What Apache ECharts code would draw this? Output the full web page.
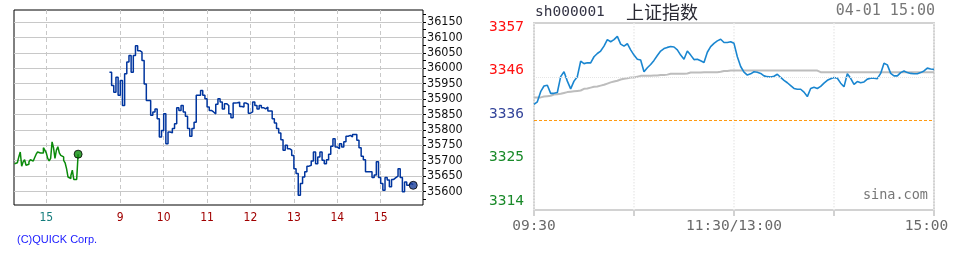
<!DOCTYPE html>
<html>
<head>
<meta charset="utf-8">
<script src="https://cdn.jsdelivr.net/npm/echarts@6/dist/echarts.min.js"></script>
<style>
  html, body { margin: 0; padding: 0; background: #fff; }
  #chart { width: 955px; height: 260px; }
</style>
</head>
<body>
<div id="chart"></div>
<script>
// ---- left panel: index futures, previous afternoon (green) + today (blue) ----
const prevStart = '14:16'
const prevStep = 2 // minutes
const prevValues = [
  35690, 35693, 35698, 35712, 35728, 35682, 35696, 35703, 35685, 35688,
  35696, 35703, 35699, 35703, 35710, 35721, 35728, 35725, 35731, 35725,
  35742, 35734, 35725, 35707, 35699, 35707, 35761, 35742, 35707, 35734,
  35745, 35725, 35717, 35712, 35701, 35693, 35674, 35647, 35642, 35652,
  35669, 35639, 35639, 35639, 35721
]
const todayStart = '08:45'
const todayStep = 3 // minutes
const todayValues = [
  35987, 35944, 35922, 35971, 35912, 35960, 35879, 35982, 36020, 36041,
  35987, 36041, 36073, 36057, 36052, 36025, 35949, 35895, 35895, 35847,
  35858, 35868, 35836, 35777, 35798, 35852, 35755, 35793, 35790, 35804,
  35820, 35872, 35863, 35879, 35858, 35844, 35804, 35779, 35804, 35825,
  35912, 35912, 35928, 35912, 35901, 35874, 35863, 35858, 35852, 35883,
  35901, 35890, 35868, 35885, 35879, 35852, 35839, 35887, 35888, 35890,
  35876, 35874, 35887, 35883, 35854, 35858, 35890, 35879, 35868, 35879,
  35872, 35868, 35874, 35861, 35861, 35836, 35822, 35804, 35790, 35768,
  35734, 35750, 35739, 35734, 35717, 35674, 35658, 35588, 35626, 35647,
  35664, 35682, 35685, 35699, 35728, 35690, 35712, 35728, 35701, 35690,
  35703, 35721, 35747, 35771, 35744, 35739, 35755, 35744, 35761, 35779,
  35782, 35777, 35785, 35785, 35766, 35742, 35714, 35703, 35664, 35664,
  35664, 35645, 35653, 35696, 35645, 35626, 35604, 35645, 35637, 35615,
  35639, 35645, 35650, 35674, 35645, 35599, 35631, 35620, 35626, 35622,
  35620
]
const leftYTicks = [35600, 35650, 35700, 35750, 35800, 35850, 35900, 35950, 36000, 36050, 36100, 36150]
const leftYMinor = [35575, 35600, 35625, 35650, 35675, 35700, 35725, 35750, 35775, 35800, 35825, 35850,
  35875, 35900, 35925, 35950, 35975, 36000, 36025, 36050, 36075, 36100, 36125, 36150, 36175]
const leftXLabels = ['15', '9', '10', '11', '12', '13', '14', '15']
const leftXHours = [15, 9, 10, 11, 12, 13, 14, 15] // first one belongs to the previous day

// ---- right panel: 上证指数 ----
const shStep = 2 // minutes since 09:30 (lunch break removed)
const shPrice = [
  3338.0, 3338.6, 3341.1, 3342.5, 3342.7, 3340.7, 3340.7, 3340.9, 3344.8, 3346.0,
  3343.7, 3341.8, 3343.7, 3344.8, 3348.6, 3348.0, 3348.2, 3348.2, 3349.7, 3350.5,
  3351.1, 3352.3, 3353.9, 3353.4, 3353.9, 3354.7, 3352.8, 3352.3, 3352.9, 3351.4,
  3350.1, 3349.1, 3348.9, 3346.0, 3347.0, 3347.8, 3348.8, 3350.0, 3351.1, 3351.7,
  3352.0, 3352.2, 3352.1, 3351.4, 3350.1, 3349.1, 3351.1, 3350.1, 3349.0, 3349.1,
  3348.7, 3348.3, 3350.8, 3352.2, 3353.0, 3353.6, 3354.0, 3353.2, 3353.2, 3353.4,
  3353.0,
  3349.7, 3347.3, 3345.9, 3345.2, 3345.5, 3346.0, 3345.9, 3345.6, 3345.0, 3344.8,
  3344.7, 3344.9, 3345.4, 3344.6, 3343.9, 3343.3, 3342.6, 3341.9, 3341.7, 3341.7,
  3341.0, 3339.9, 3341.9, 3342.2, 3341.9, 3342.4, 3343.2, 3343.9, 3344.3, 3344.6,
  3344.4, 3343.2, 3342.3, 3345.5, 3344.4, 3342.9, 3343.6, 3343.3, 3343.5, 3344.2,
  3344.4, 3344.4, 3344.3, 3345.6, 3348.1, 3347.7, 3345.6, 3345.0, 3345.0, 3345.8,
  3346.2, 3345.8, 3345.6, 3345.5, 3345.5, 3345.8, 3346.2, 3346.9, 3346.7, 3346.6
]
const shAvg = [
  3339.7, 3339.7, 3339.9, 3340.0, 3340.1, 3340.4, 3340.5, 3340.6, 3340.8, 3341.0,
  3341.1, 3341.2, 3341.3, 3341.4, 3341.8, 3341.9, 3342.1, 3342.3, 3342.4, 3342.6,
  3342.8, 3343.1, 3343.4, 3343.6, 3343.8, 3344.1, 3344.3, 3344.4, 3344.6, 3344.6,
  3344.8, 3345.0, 3345.0, 3345.0, 3345.0, 3345.1, 3345.1, 3345.2, 3345.2, 3345.3,
  3345.5, 3345.5, 3345.5, 3345.5, 3345.5, 3345.6, 3345.8, 3345.8, 3345.8, 3345.8,
  3345.9, 3345.9, 3345.9, 3345.9, 3345.9, 3346.0, 3346.2, 3346.2, 3346.3, 3346.3,
  3346.3,
  3346.3, 3346.3, 3346.3, 3346.3, 3346.3, 3346.3, 3346.3, 3346.3, 3346.3, 3346.3,
  3346.3, 3346.3, 3346.3, 3346.3, 3346.3, 3346.3, 3346.3, 3346.3, 3346.3, 3346.3,
  3346.3, 3346.3, 3346.3, 3346.3, 3345.9, 3345.9, 3345.9, 3345.9, 3345.9, 3345.9,
  3345.9, 3345.9, 3345.9, 3345.9, 3345.9, 3345.9, 3345.9, 3345.9, 3345.9, 3345.9,
  3345.9, 3345.9, 3345.9, 3345.9, 3345.9, 3345.9, 3345.9, 3345.9, 3345.9, 3345.9,
  3345.9, 3345.9, 3345.9, 3345.9, 3345.9, 3345.9, 3345.9, 3345.9, 3345.9, 3345.9
]
const shPrevClose = 3334.0
const shFaintLevel = 3344.6
const shYTicks = [3314.2, 3324.9, 3335.6, 3346.3, 3357.0]
const shXTicks = [0, 60, 120, 180, 240]
const shXLabelAt = [0, 120, 240]
const shXLabels = ['09:30', '11:30/13:00', '15:00']

// previous day's afternoon is pulled left so its 15:00 sits just before today's open
const PREV_SHIFT = 7.705
const toHours = s => { const [h, m] = s.split(':').map(Number); return h + m / 60 }
const leftXTicks = leftXHours.map((h, i) => i === 0 ? h - PREV_SHIFT : h)

const prevData = prevValues.map((v, i) => [toHours(prevStart) + i * prevStep / 60 - PREV_SHIFT, v])
const todayData = todayValues.map((v, i) => [toHours(todayStart) + i * todayStep / 60, v])
const shPriceData = shPrice.map((v, i) => [i * shStep, v])
const shAvgData = shAvg.map((v, i) => [i * shStep, v])

const narrow = "'Liberation Sans Narrow', 'DejaVu Sans Condensed', sans-serif"
const mono = "'DejaVu Sans Mono', 'Liberation Mono', monospace"

const nearestIdx = (arr, v) => {
  let best = 0
  arr.forEach((a, i) => { if (Math.abs(a - v) < Math.abs(arr[best] - v)) best = i })
  return best
}

const chart = echarts.init(document.getElementById('chart'))
chart.setOption({
  animation: false,
  grid: [
    { left: 14, top: 10, width: 409, height: 195, show: true, borderColor: '#000', borderWidth: 1 },
    { left: 534, top: 23, width: 400, height: 187, show: true, borderColor: '#d2d2d2', borderWidth: 2 }
  ],
  xAxis: [
    {
      gridIndex: 0, type: 'value', min: 6.551, max: 15.975,
      axisLine: { show: false },
      axisTick: { show: false, customValues: leftXTicks },
      axisLabel: {
        customValues: leftXTicks,
        margin: 7,
        fontSize: 12,
        fontFamily: narrow,
        formatter: v => leftXLabels[nearestIdx(leftXTicks, v)],
        color: v => (nearestIdx(leftXTicks, v) === 0 ? '#137c7c' : '#a00000')
      },
      splitLine: { show: true, lineStyle: { color: '#c8c8c8', type: [4, 3] } }
    },
    {
      gridIndex: 1, type: 'value', min: 0, max: 240,
      axisLine: { show: false },
      axisTick: { show: true, customValues: shXTicks, length: 6, lineStyle: { color: '#d2d2d2', width: 2 } },
      axisLabel: {
        customValues: shXLabelAt,
        margin: 9,
        fontSize: 14.5,
        fontFamily: mono,
        color: '#6a6a6a',
        formatter: v => {
          const i = nearestIdx(shXLabelAt, v)
          return i === shXLabelAt.length - 1 ? '{r|' + shXLabels[i] + '}' : shXLabels[i]
        },
        rich: { r: { fontSize: 14.5, fontFamily: mono, color: '#6a6a6a', padding: [0, 15, 0, 0] } }
      },
      splitLine: { show: true, lineStyle: { color: '#ececec', type: 'dotted', width: 1.5 } }
    }
  ],
  yAxis: [
    {
      gridIndex: 0, type: 'value', position: 'right', min: 35556, max: 36189,
      axisLine: { show: false },
      axisTick: { show: false, customValues: leftYTicks },
      axisLabel: {
        customValues: leftYTicks, margin: 4, fontSize: 12.5, fontFamily: narrow, color: '#111',
        formatter: v => String(v)
      },
      splitLine: { show: true, lineStyle: { color: '#c8c8c8', width: 1 } }
    },
    {
      gridIndex: 0, type: 'value', position: 'right', min: 35556, max: 36189,
      axisLine: { show: false },
      axisTick: { show: true, customValues: leftYMinor, length: 3, lineStyle: { color: '#000' } },
      axisLabel: { show: false },
      splitLine: { show: false }
    },
    {
      gridIndex: 1, type: 'value', min: 3312, max: 3358,
      axisLine: { show: false },
      axisTick: { show: false },
      axisLabel: {
        customValues: shYTicks,
        margin: 10,
        fontSize: 14.5,
        fontFamily: mono,
        formatter: v => String(Math.round(v)),
        color: v => {
          const mid = shYTicks[2]
          if (v > mid + 0.5) return '#ff1010'
          if (v < mid - 0.5) return '#1a8a2a'
          return '#33449a'
        }
      },
      splitLine: { show: false }
    }
  ],
  series: [
    {
      type: 'line', xAxisIndex: 0, yAxisIndex: 0, data: prevData, step: 'end',
      symbol: 'none', lineStyle: { color: '#0a8a0a', width: 1.5 }, z: 3
    },
    {
      type: 'line', xAxisIndex: 0, yAxisIndex: 0, data: todayData, step: 'end',
      symbol: 'none', lineStyle: { color: '#00359e', width: 1.5 }, z: 3
    },
    {
      type: 'scatter', xAxisIndex: 0, yAxisIndex: 0, symbolSize: 8, z: 4,
      data: [
        { value: prevData[prevData.length - 1], itemStyle: { color: '#0a8a0a', borderColor: '#000', borderWidth: 1 } },
        { value: todayData[todayData.length - 1], itemStyle: { color: '#1a3f9a', borderColor: '#000', borderWidth: 1 } }
      ]
    },
    {
      type: 'line', xAxisIndex: 1, yAxisIndex: 2, data: shAvgData, step: 'end',
      symbol: 'none', lineStyle: { color: '#bdbdbd', width: 2 }, z: 2
    },
    {
      type: 'line', xAxisIndex: 1, yAxisIndex: 2, data: shPriceData,
      symbol: 'none', lineStyle: { color: '#1a86d0', width: 1.6 }, z: 3,
      markLine: {
        silent: true, symbol: 'none', label: { show: false },
        data: [
          { yAxis: shPrevClose, lineStyle: { color: '#ff9a10', type: [3, 2], width: 1.2 } },
          { yAxis: shFaintLevel, lineStyle: { color: '#e6e6e6', type: 'dotted', width: 1 } }
        ]
      }
    }
  ],
  graphic: [
    { type: 'text', style: { x: 535, y: 12, text: 'sh000001', font: '14.5px ' + mono, fill: '#333344', verticalAlign: 'middle' } },
    { type: 'text', style: { x: 626, y: 12, text: '上证指数', font: '18px "Noto Sans CJK SC"', fill: '#2a2a33', verticalAlign: 'middle' } },
    { type: 'text', style: { x: 935, y: 11, text: '04-01 15:00', font: '15px ' + mono, fill: '#777', align: 'right', verticalAlign: 'middle' } },
    { type: 'text', style: { x: 928, y: 195, text: 'sina.com', font: '13.5px ' + mono, fill: '#777', align: 'right', verticalAlign: 'middle' } },
    { type: 'text', style: { x: 17, y: 240, text: '(C)QUICK Corp.', font: '11px "Liberation Sans", sans-serif', fill: '#1a1aff', verticalAlign: 'middle' } }
  ]
})
</script>
</body>
</html>
